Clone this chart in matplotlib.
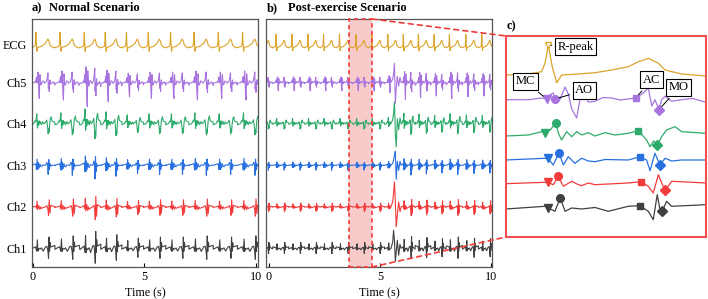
import numpy as np
import matplotlib
matplotlib.use("Agg")
import matplotlib.pyplot as plt
from matplotlib.patches import Rectangle, ConnectionPatch

plt.rcParams['font.family'] = ['Liberation Serif', 'DejaVu Serif']
plt.rcParams['font.size'] = 8.7

CHANNELS = ['Ch1', 'Ch2', 'Ch3', 'Ch4', 'Ch5', 'ECG']
COLORS = ['#404040', '#f23b3b', '#2870e0', '#2eaa6b', '#a875e0', '#dba428']

# one heartbeat as read from the zoomed window c) : time in ms, amplitude in window px (up +)
# R-peak sits at 222 ms
ECG_T = [0, 117, 187, 205, 222, 243, 266, 292, 380, 467, 555, 642, 695, 747, 800, 835, 922, 1050]
ECG_V = [0, 1, 3.3, 12, 30, 8, -7.7, 0, 1, 2.3, 5, 8.3, 13.3, 16.7, 11.7, 5, 1, -1]

CH5_T = [0, 117, 187, 213, 231, 248, 257, 283, 310, 327, 345, 371, 397, 432, 467, 510, 555, 600, 642, 681,
         721, 747, 765, 782, 803, 817, 835, 870, 922, 980, 1050]
CH5_V = [-0.7, -0.7, 1, 0, 4.3, 6, 0, -0.7, 12, 5, -10, -19, 9, -3, -2.3, 1.5, 1, -1, 0, 1,
         6, 11, -7, -0.7, -10.7, -0.7, 2.7, -2.3, -0.7, 0.5, -3.3]

CH4_T = [0, 117, 187, 205, 231, 262, 275, 292, 318, 345, 371, 397, 432, 467, 520, 572, 642, 695, 738,
         756, 775, 794, 817, 843, 887, 922, 1050]
CH4_V = [-1, 0, 3.3, 2.3, 5, 11.7, 1.7, -5, 3.3, -1.7, 3.3, 0, 2.3, -1, 2.3, 0, 1.7, 4.3, -5,
         -11.7, -6, -10, -1.7, 5, 8.3, 3.3, 1.7]

CH3_T = [0, 205, 219, 248, 278, 301, 327, 362, 397, 432, 467, 520, 642, 703, 738, 756, 782, 808, 835,
         870, 922, 1050]
CH3_V = [0, 1.7, 1.7, -5, 7.3, -5, 3.3, -3.3, 1.7, -1, -1.7, 0.5, 0, 3.3, 0, -10.7, 6.7, -5, 1.7,
         -1, 0, 0]

CH2_T = [0, 205, 219, 248, 275, 301, 345, 372, 397, 432, 467, 642, 707, 747, 773, 800, 817, 835, 870, 1050]
CH2_V = [-0.7, 0.7, 0.7, -1.7, 6.7, -3.3, 1.7, -1, -2.7, 0, -1.7, 0, 1.3, -3.3, -10, 8.3, 0, -7.3, 1.7, 0]

CH1_T = [0, 205, 222, 257, 285, 310, 345, 397, 467, 537, 642, 703, 747, 773, 794, 810, 821, 843, 870, 1050]
CH1_V = [-1, 1.7, 0, -3.3, 10, -3.3, 0, -1, 0.5, -3.3, 1.7, 2.3, -3.3, -11.7, 13.3, -3.3, -3.3, 6.7, 1.7, 3.3]

# MC, AO, AC, MO fiducial points (time ms, amplitude px) in window c)
CH5_MARK_T = [213, 257, 681, 803]
CH5_MARK_V = [0, 0, 1, -10.7]
CH4_MARK_T = [205, 262, 695, 794]
CH4_MARK_V = [2.3, 11.7, 4.3, -10]
CH3_MARK_T = [219, 278, 703, 808]
CH3_MARK_V = [1.7, 7.3, 3.3, -5]
CH2_MARK_T = [219, 275, 707, 835]
CH2_MARK_V = [0.7, 6.7, 1.3, -7.3]
CH1_MARK_T = [222, 285, 703, 821]
CH1_MARK_V = [0, 10, 2.3, -3.3]
MARKERS = ['v', 'o', 's', 'D']
MARK_NAMES = ['MC', 'AO', 'AC', 'MO']

# R-peak times (s)
BEATS_A = [0.13, 1.21, 2.30, 3.24, 4.19, 5.17, 6.17, 7.22, 8.31, 9.40]
GAIN_A = [1.0, 1.1, 1.5, 1.2, 0.9, 1.0, 1.0, 1.1, 1.0, 1.1]
BEATS_B = [-0.39, 0.32, 1.04, 1.76, 2.46, 3.18, 3.93, 4.64, 5.36, 6.06, 6.74, 7.45, 8.14, 8.88, 9.60]
GAIN_B = [1.0, 1.0, 1.0, 1.0, 1.0, 1.0, 1.0, 1.0, 1.2, 2.0, 1.8, 1.6, 1.9, 1.7, 1.6]

# motion artefact after exercise (s, px)
ART_T = [5.50, 5.58, 5.62, 5.66, 5.70, 5.74, 5.79, 5.85, 5.91, 5.96]
ART_CH5 = [0, 3, 8, 19, -21, -6, 6, -4, 5, 0]
ART_CH4 = [0, 4, 10, 22, -10, -23, 5, -6, 6, 0]
ART_CH3 = [0, 2, 5, 10, 14, -14, 4, -5, 4, 0]
ART_CH2 = [0, 5, 14, 25, 5, -20, -8, 5, -5, 0]
ART_CH1 = [0, 6, 18, 8, -13, -4, 8, -7, 4, 0]

TEMPL_T = [CH1_T, CH2_T, CH3_T, CH4_T, CH5_T, ECG_T]
TEMPL_V = [CH1_V, CH2_V, CH3_V, CH4_V, CH5_V, ECG_V]
MARK_T = [CH1_MARK_T, CH2_MARK_T, CH3_MARK_T, CH4_MARK_T, CH5_MARK_T]
MARK_V = [CH1_MARK_V, CH2_MARK_V, CH3_MARK_V, CH4_MARK_V, CH5_MARK_V]
ARTS = [ART_CH1, ART_CH2, ART_CH3, ART_CH4, ART_CH5]

OFFSETS = [0, 1, 2, 3, 4, 4.84]     # trace baselines in panels a/b
PX = 41.5                           # px per unit in panels a/b
OFFSETS_C = [29, 54, 77, 102, 138, 162]


def beat_train(beats, t_ms, vals, scale, gains):
    xs, ys = [], []
    for i, r in enumerate(beats):
        step = beats[i + 1] - r if i + 1 < len(beats) else r - beats[i - 1]
        s = step / 1.05
        xs.append(r + (np.array(t_ms) - 222) / 1000 * s)
        ys.append(np.array(vals) * scale * gains[i])
    return np.concatenate(xs), np.concatenate(ys)


fig = plt.figure(figsize=(7.08, 2.99), dpi=100)
ax_a = fig.add_axes([0.0452, 0.107, 0.3192, 0.8295])
ax_b = fig.add_axes([0.3757, 0.107, 0.3192, 0.8295])
ax_c = fig.add_axes([0.7147, 0.2074, 0.2825, 0.6722])

for k, ch in enumerate(CHANNELS):
    ecg = ch == 'ECG'
    # panel a
    sc = 0.5 / PX if ecg else 0.85 / PX
    g = [1.0] * len(BEATS_A) if ecg else GAIN_A
    x, y = beat_train(BEATS_A, TEMPL_T[k], TEMPL_V[k], sc, g)
    ax_a.plot(x, y + OFFSETS[k], color=COLORS[k], lw=0.8)
    # panel b
    sc = 0.43 / PX if ecg else 0.45 / PX
    g = [1.0] * len(BEATS_B) if ecg else GAIN_B
    x, y = beat_train(BEATS_B, TEMPL_T[k], TEMPL_V[k], sc, g)
    if not ecg:
        keep = (x < ART_T[0]) | (x > ART_T[-1])
        x = np.concatenate([x[keep], ART_T])
        y = np.concatenate([y[keep], np.array(ARTS[k]) / PX])
        order = np.argsort(x, kind='stable')
        x, y = x[order], y[order]
    ax_b.plot(x, y + OFFSETS[k], color=COLORS[k], lw=0.8)
    # panel c
    ax_c.plot(TEMPL_T[k], np.array(TEMPL_V[k]) + OFFSETS_C[k], color=COLORS[k], lw=0.9)
    if not ecg:
        for m in range(4):
            ax_c.plot(MARK_T[k][m], MARK_V[k][m] + OFFSETS_C[k], marker=MARKERS[m],
                      color=COLORS[k], ms=5.5 if m < 2 else 4.8, ls='none')

# R-peak marker
ax_c.plot(222, 30 + OFFSETS_C[5], marker='v', ms=5, mfc='white', mec=COLORS[5], mew=0.9, ls='none')

for ax in (ax_a, ax_b):
    ax.set_ylim(-0.45, 5.525)
    ax.set_xticks([0, 5, 10])
    ax.tick_params(axis='x', direction='in', length=3, width=0.8, pad=3, labelsize=8.7)
    ax.tick_params(axis='y', length=0)
    ax.set_xlabel('Time (s)', fontsize=8.7, labelpad=3)
    for sp in ax.spines.values():
        sp.set_color('#555555')
        sp.set_linewidth(0.9)
ax_a.set_xlim(-0.045, 10.09)
ax_b.set_xlim(-0.135, 10.06)
ax_a.set_yticks(OFFSETS[:5] + [4.92])
ax_a.set_yticklabels(CHANNELS, fontsize=8.7)
ax_a.tick_params(axis='y', pad=4)
ax_b.set_yticks([])

# highlighted window in b
x0, x1 = 3.59, 4.64
ax_b.add_patch(Rectangle((x0, -0.45), x1 - x0, 5.975, facecolor='#f08a8a', alpha=0.45,
                         edgecolor='none', zorder=0))
ax_b.add_patch(Rectangle((x0, -0.45), x1 - x0, 5.975, facecolor='none', edgecolor='#f03c3c',
                         ls=(0, (2.5, 2)), lw=1.2, zorder=5, clip_on=False))

ax_c.set_xlim(0, 1050)
ax_c.set_ylim(0, 201)
ax_c.set_xticks([])
ax_c.set_yticks([])
for sp in ax_c.spines.values():
    sp.set_color('#f05050')
    sp.set_linewidth(1.5)

for xy_b, xy_c in [((x1, 5.525), (0, 1)), ((x1, -0.45), (0, 0))]:
    con = ConnectionPatch(xyA=xy_b, coordsA=ax_b.transData, xyB=xy_c, coordsB=ax_c.transAxes,
                          color='#f03c3c', ls=(0, (3, 2.5)), lw=1.2)
    fig.add_artist(con)

box = dict(boxstyle='square,pad=0.2', fc='white', ec='black', lw=0.8)
ax_c.annotate('R-peak', xy=(222, 30 + OFFSETS_C[5]), xytext=(365, 190), ha='center', va='center',
              fontsize=9, bbox=box, arrowprops=dict(arrowstyle='-', lw=0.7, color='black'))
label_pos = [(102, 155.5), (410, 146.5), (764, 157), (908, 149.5)]
for m in range(4):
    ax_c.annotate(MARK_NAMES[m], xy=(CH5_MARK_T[m], CH5_MARK_V[m] + OFFSETS_C[4]),
                  xytext=label_pos[m], ha='center', va='center', fontsize=9, bbox=box,
                  arrowprops=dict(arrowstyle='-', lw=0.7, color='black', shrinkB=3))

fig.text(0.0452, 0.973, 'a)', fontsize=9, fontweight='bold', va='center')
fig.text(0.069, 0.973, 'Normal Scenario', fontsize=9, fontweight='bold', va='center')
fig.text(0.3775, 0.973, 'b)', fontsize=9, fontweight='bold', va='center')
fig.text(0.407, 0.973, 'Post-exercise Scenario', fontsize=9, fontweight='bold', va='center')
fig.text(0.716, 0.913, 'c)', fontsize=9, fontweight='bold', va='center')

fig.savefig('out.png', dpi=100)
